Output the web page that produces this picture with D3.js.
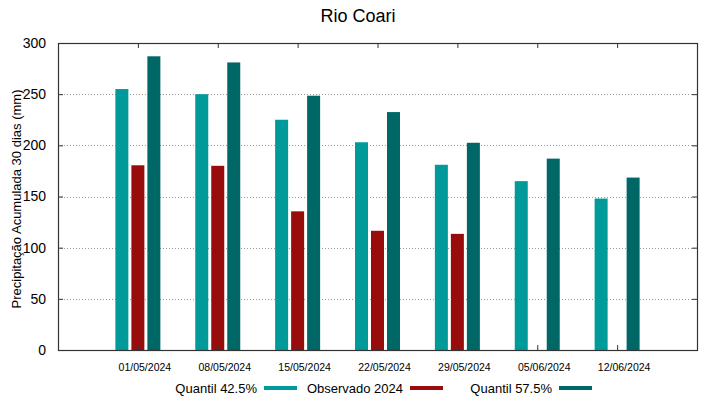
<!DOCTYPE html>
<html>
<head>
<meta charset="utf-8">
<script src="https://cdn.jsdelivr.net/npm/d3@7"></script>
<style>
  body { margin: 0; background: #fff; }
  text { font-family: "Liberation Sans", Arial, sans-serif; }
</style>
</head>
<body>
<svg width="719" height="399"></svg>
<script>
// dados
var datas = ["01/05/2024", "08/05/2024", "15/05/2024", "22/05/2024", "29/05/2024", "05/06/2024", "12/06/2024"];
var quantil425 = [255, 250, 225, 203, 181, 165, 148];
var observado = [180.5, 180, 135.5, 116.5, 113.5, null, null];
var quantil575 = [287, 281, 248.5, 232.5, 202.5, 187, 168.5];
var yTicks = [0, 50, 100, 150, 200, 250, 300];

var series = [
  {nome: "Quantil 42.5%", valores: quantil425, cor: "#009a9a", off: -16},
  {nome: "Observado 2024", valores: observado, cor: "#990c0c", off: 0},
  {nome: "Quantil 57.5%", valores: quantil575, cor: "#006767", off: 16}
];

var svg = d3.select("svg");
var margin = {top: 43, right: 22, bottom: 49, left: 58};
var width = 719 - margin.left - margin.right,
    height = 399 - margin.top - margin.bottom;

var x = d3.scaleLinear().domain([0, datas.length + 1]).range([margin.left, margin.left + width]);
var y = d3.scaleLinear().domain([0, 300]).range([margin.top + height, margin.top]);
var barW = 13;

// grade pontilhada
svg.append("g").selectAll("line")
    .data(yTicks.slice(1, -1))
    .enter().append("line")
    .attr("x1", margin.left).attr("x2", margin.left + width)
    .attr("y1", function (d) { return Math.round(y(d)) + 0.5; })
    .attr("y2", function (d) { return Math.round(y(d)) + 0.5; })
    .style("stroke", "#999")
    .style("stroke-width", 1)
    .style("stroke-dasharray", "1,2");

// barras
series.forEach(function (s) {
  svg.append("g").selectAll("rect")
      .data(s.valores.map(function (v, i) { return {v: v, i: i}; }).filter(function (d) { return d.v != null; }))
      .enter().append("rect")
      .attr("x", function (d) { return x(d.i + 1) + s.off - barW / 2; })
      .attr("y", function (d) { return y(d.v); })
      .attr("width", barW)
      .attr("height", function (d) { return y(0) - y(d.v); })
      .style("fill", s.cor);
});

// eixos
var yAxis = svg.append("g")
    .attr("transform", "translate(" + margin.left + ",0)")
    .call(d3.axisLeft(y).tickValues(yTicks).tickSize(-5).tickPadding(12));
var yAxisR = svg.append("g")
    .attr("transform", "translate(" + (margin.left + width) + ",0)")
    .call(d3.axisRight(y).tickValues(yTicks).tickSize(-5).tickFormat(""));
var xAxis = svg.append("g")
    .attr("transform", "translate(0," + (margin.top + height) + ")")
    .call(d3.axisBottom(x).tickValues(d3.range(1, datas.length + 1)).tickSize(-5).tickPadding(14)
      .tickFormat(function (d) { return datas[d - 1]; }));
var xAxisT = svg.append("g")
    .attr("transform", "translate(0," + margin.top + ")")
    .call(d3.axisTop(x).tickValues(d3.range(1, datas.length + 1)).tickSize(-5).tickFormat(""));

[yAxis, yAxisR, xAxis, xAxisT].forEach(function (a) {
  a.select(".domain").remove();
  a.selectAll("line").style("stroke", "#333");
});
yAxis.selectAll("text").style("font-size", "14px").style("fill", "#000");
xAxis.selectAll("text").style("font-size", "10.5px").style("fill", "#000").attr("dx", 6.5);

// moldura
svg.append("rect")
    .attr("x", margin.left + 0.5).attr("y", margin.top + 0.5)
    .attr("width", width).attr("height", height)
    .style("fill", "none").style("stroke", "#333").style("stroke-width", 1.2);

// titulo
svg.append("text")
    .attr("x", 358).attr("y", 22)
    .attr("text-anchor", "middle")
    .style("font-size", "18px")
    .text("Rio Coari");

svg.append("text")
    .attr("transform", "translate(21,199) rotate(-90)")
    .attr("text-anchor", "middle")
    .style("font-size", "13px")
    .text("Precipitação Acumulada 30 dias (mm)");

// legenda
var legX = [257, 403, 552];
var leg = svg.append("g").selectAll("g")
    .data(series)
    .enter().append("g")
    .attr("transform", function (d, i) { return "translate(" + legX[i] + ",388)"; });
leg.append("text")
    .attr("text-anchor", "end")
    .attr("dy", "0.35em")
    .style("font-size", "13px")
    .text(function (d) { return d.nome; });
leg.append("line")
    .attr("x1", 7).attr("x2", 40)
    .style("stroke", function (d) { return d.cor; })
    .style("stroke-width", 4);
</script>
</body>
</html>
